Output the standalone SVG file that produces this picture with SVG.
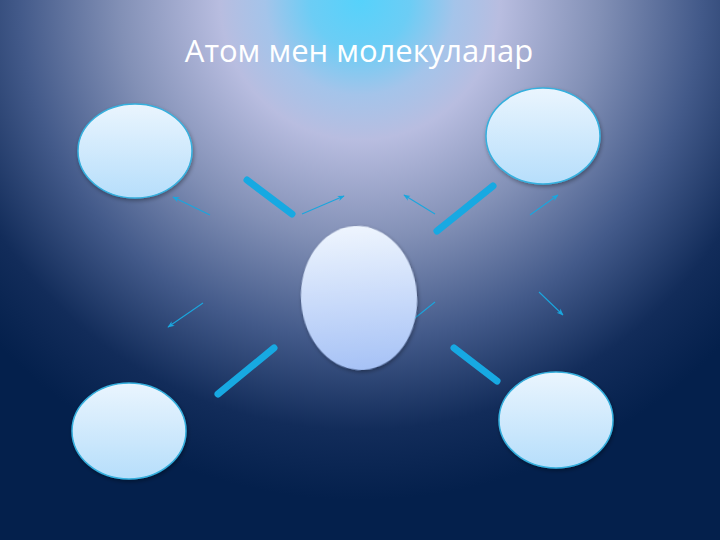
<svg xmlns="http://www.w3.org/2000/svg" width="720" height="540" viewBox="0 0 720 540">
<defs>
<radialGradient id="bg" cx="360" cy="0" r="500" gradientUnits="userSpaceOnUse">
<stop offset="0" stop-color="#56d2fb"/>
<stop offset="0.1" stop-color="#6ccdf5"/>
<stop offset="0.19" stop-color="#a4c4ea"/>
<stop offset="0.28" stop-color="#b8bde0"/>
<stop offset="0.48" stop-color="#8290b6"/>
<stop offset="0.68" stop-color="#435a8a"/>
<stop offset="0.86" stop-color="#122c5a"/>
<stop offset="1" stop-color="#04204c"/>
</radialGradient>
<linearGradient id="nodeFill" x1="0" y1="0" x2="0" y2="1">
<stop offset="0" stop-color="#eaf5fe"/>
<stop offset="1" stop-color="#b6defb"/>
</linearGradient>
<linearGradient id="centerFill" x1="0" y1="0" x2="0" y2="1">
<stop offset="0" stop-color="#eef5fe"/>
<stop offset="1" stop-color="#a6c2f6"/>
</linearGradient>
<filter id="sh" x="-20%" y="-20%" width="140%" height="140%">
<feGaussianBlur in="SourceAlpha" stdDeviation="2"/>
<feOffset dx="1" dy="2"/>
<feComponentTransfer><feFuncA type="linear" slope="0.35"/></feComponentTransfer>
<feMerge><feMergeNode/><feMergeNode in="SourceGraphic"/></feMerge>
</filter>
<marker id="ah" viewBox="0 0 10 10" refX="9" refY="5" markerWidth="7" markerHeight="7" orient="auto" markerUnits="userSpaceOnUse">
<path d="M0,1 L10,5 L0,9 L3,5 Z" fill="#1aa6de"/>
</marker>
</defs>
<style>
.node{fill:url(#nodeFill);stroke:#36b0de;stroke-width:1.5}
.bar{stroke:#17a9e2;stroke-width:7;stroke-linecap:round}
.arr{stroke:#1aa6de;stroke-width:1.1;fill:none;marker-end:url(#ah)}
.title{font-family:"Open Sans","DejaVu Sans",sans-serif;font-size:31px;fill:#ffffff}
</style>
<rect width="720" height="540" fill="url(#bg)"/>
<text class="title" x="359" y="62" text-anchor="middle">Атом мен молекулалар</text>
<g id="connectors">
<line class="bar" x1="247" y1="180" x2="292" y2="214"/>
<line class="bar" x1="493" y1="186" x2="437" y2="231"/>
<line class="bar" x1="274" y1="348" x2="218" y2="394"/>
<line class="bar" x1="454" y1="348" x2="497" y2="381"/>
<line class="arr" x1="210" y1="215" x2="173" y2="197"/>
<line class="arr" x1="302" y1="214" x2="344" y2="196"/>
<line class="arr" x1="435" y1="214" x2="404" y2="195"/>
<line class="arr" x1="530" y1="215" x2="558" y2="195"/>
<line class="arr" x1="203" y1="303" x2="168" y2="327"/>
<line class="arr" x1="435" y1="302" x2="405" y2="326"/>
<line class="arr" x1="539" y1="292" x2="563" y2="315"/>
</g>
<g id="node-top-left"><ellipse class="node" cx="135" cy="151" rx="57" ry="47" filter="url(#sh)"/></g>
<g id="node-top-right"><ellipse class="node" cx="543" cy="136" rx="57" ry="48" filter="url(#sh)"/></g>
<g id="node-center"><ellipse cx="359" cy="298" rx="58" ry="72" fill="url(#centerFill)" filter="url(#sh)" transform="rotate(-4 359 298)"/></g>
<g id="node-bottom-left"><ellipse class="node" cx="129" cy="431" rx="57" ry="48" filter="url(#sh)"/></g>
<g id="node-bottom-right"><ellipse class="node" cx="556" cy="420" rx="57" ry="48" filter="url(#sh)"/></g>
</svg>
